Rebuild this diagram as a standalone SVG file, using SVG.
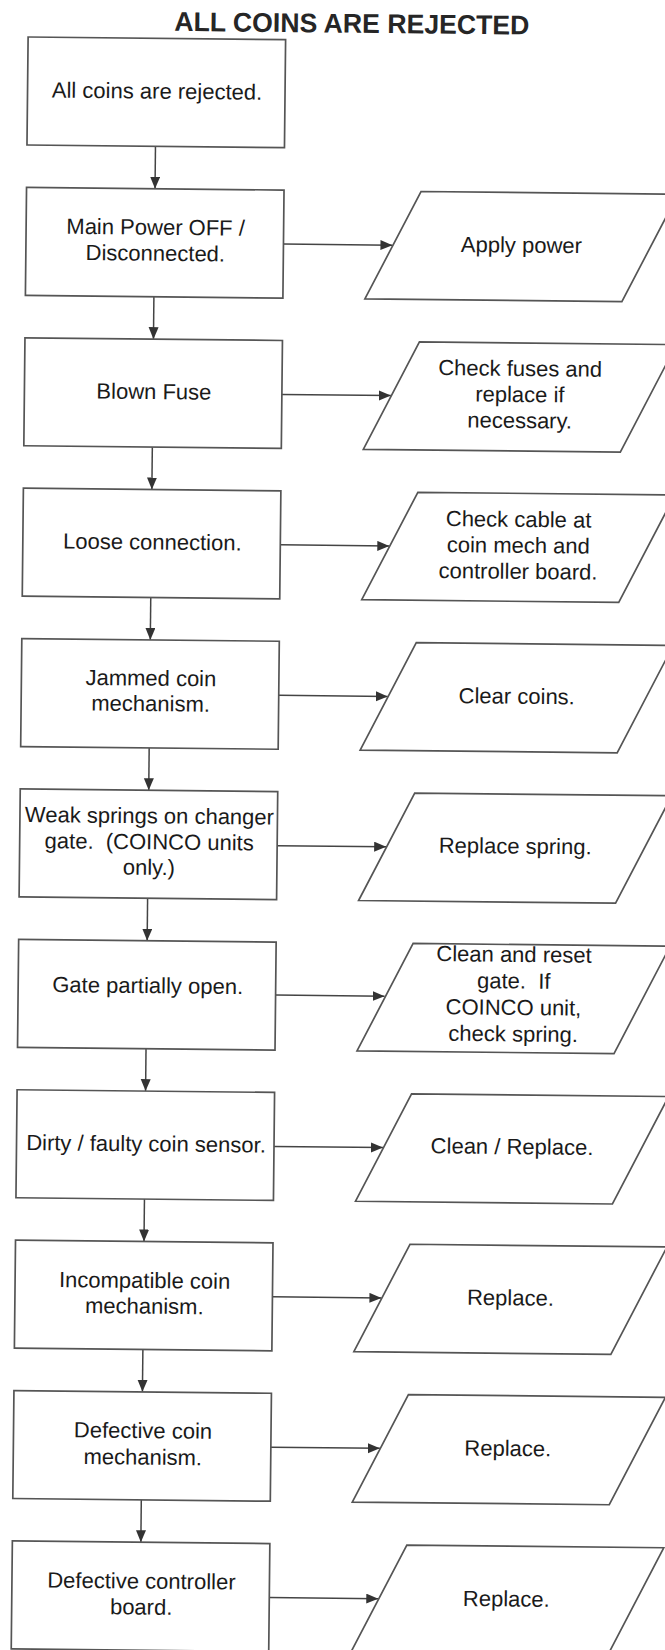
<svg xmlns="http://www.w3.org/2000/svg" width="665" height="1650" viewBox="0 0 665 1650">
<defs>
<marker id="ah" markerUnits="userSpaceOnUse" markerWidth="13" markerHeight="11" refX="12" refY="5" orient="auto">
<path d="M0,0 L12,5 L0,10 Z" fill="#333"/>
</marker>
<style>
.box{fill:#fff;stroke:#555;stroke-width:1.7}
.io{fill:#fff;stroke:#555;stroke-width:1.7}
.c{stroke:#444;stroke-width:1.5;fill:none;marker-end:url(#ah)}
text{font-family:"Liberation Sans",Arial,Helvetica,sans-serif;font-size:22px;fill:#1a1a1a;text-anchor:middle}
.title{font-weight:bold;font-size:27px;fill:#262626}
.b{}
.p{}
</style>
</defs>
<rect width="665" height="1650" fill="#fff"/>
<g transform="rotate(0.6)">
<text class="title" x="352" y="29" textLength="355" lengthAdjust="spacingAndGlyphs">ALL COINS ARE REJECTED</text>

<g id="connectors">
<line class="c" x1="157" y1="144.7" x2="157" y2="187.1"/>
<line class="c" x1="157" y1="295.1" x2="157" y2="337.5"/>
<line class="c" x1="157" y1="445.5" x2="157" y2="487.9"/>
<line class="c" x1="157" y1="595.9" x2="157" y2="638.3"/>
<line class="c" x1="157" y1="746.3" x2="157" y2="788.7"/>
<line class="c" x1="157" y1="896.7" x2="157" y2="939.1"/>
<line class="c" x1="157" y1="1047.1" x2="157" y2="1089.5"/>
<line class="c" x1="157" y1="1197.5" x2="157" y2="1239.9"/>
<line class="c" x1="157" y1="1347.9" x2="157" y2="1390.3"/>
<line class="c" x1="157" y1="1498.3" x2="157" y2="1540.7"/>
<line class="c" x1="286" y1="241.1" x2="395" y2="241.1"/>
<line class="c" x1="286" y1="391.5" x2="395" y2="391.5"/>
<line class="c" x1="286" y1="541.9" x2="395" y2="541.9"/>
<line class="c" x1="286" y1="692.3" x2="395" y2="692.3"/>
<line class="c" x1="286" y1="842.7" x2="395" y2="842.7"/>
<line class="c" x1="286" y1="992.1" x2="395" y2="992.1"/>
<line class="c" x1="286" y1="1143.5" x2="395" y2="1143.5"/>
<line class="c" x1="286" y1="1293.9" x2="395" y2="1293.9"/>
<line class="c" x1="286" y1="1444.3" x2="395" y2="1444.3"/>
<line class="c" x1="286" y1="1594.7" x2="395" y2="1594.7"/>
</g>

<g id="n1"><rect class="box" x="28.5" y="36.7" width="257.5" height="108"/>
<text x="158" y="97">All coins are rejected.</text></g>

<g id="n2"><rect class="box" x="28.5" y="187.1" width="257.5" height="108"/>
<text x="158" y="233.1">Main Power OFF /</text><text x="158" y="259.1">Disconnected.</text></g>
<g id="a2"><path class="io" d="M368,295.1 L423,187.1 L680,187.1 L625,295.1 Z"/>
<text x="524" y="247.1">Apply power</text></g>

<g id="n3"><rect class="box" x="28.5" y="337.5" width="257.5" height="108"/>
<text x="158" y="397.5">Blown Fuse</text></g>
<g id="a3"><path class="io" d="M368,445.5 L423,337.5 L680,337.5 L625,445.5 Z"/>
<text x="524" y="370.5">Check fuses and</text><text x="524" y="396.5">replace if</text><text x="524" y="422.5">necessary.</text></g>

<g id="n4"><rect class="box" x="28.5" y="487.9" width="257.5" height="108"/>
<text x="158" y="547.9">Loose connection.</text></g>
<g id="a4"><path class="io" d="M368,595.9 L423,487.9 L680,487.9 L625,595.9 Z"/>
<text x="524" y="521.4">Check cable at</text><text x="524" y="547.4">coin mech and</text><text x="524" y="573.4">controller board.</text></g>

<g id="n5"><rect class="box" x="28.5" y="638.3" width="257.5" height="108"/>
<text x="158" y="684">Jammed coin</text><text x="158" y="709.5">mechanism.</text></g>
<g id="a5"><path class="io" d="M368,746.3 L423,638.3 L680,638.3 L625,746.3 Z"/>
<text x="524" y="698.3">Clear coins.</text></g>

<g id="n6"><rect class="box" x="28.5" y="788.7" width="257.5" height="108"/>
<text x="158" y="821.7">Weak springs on changer</text><text x="158" y="847.7" xml:space="preserve">gate.  (COINCO units</text><text x="158" y="873.2">only.)</text></g>
<g id="a6"><path class="io" d="M368,896.7 L423,788.7 L680,788.7 L625,896.7 Z"/>
<text x="524" y="848.2">Replace spring.</text></g>

<g id="n7"><rect class="box" x="28.5" y="939.1" width="257.5" height="108"/>
<text x="158" y="991.5">Gate partially open.</text></g>
<g id="a7"><path class="io" d="M368,1047.1 L423,939.1 L680,939.1 L625,1047.1 Z"/>
<text x="524" y="956.5">Clean and reset</text><text x="524" y="983" xml:space="preserve">gate.  If</text><text x="524" y="1009.5">COINCO unit,</text><text x="524" y="1036">check spring.</text></g>

<g id="n8"><rect class="box" x="28.5" y="1089.5" width="257.5" height="108"/>
<text x="158" y="1149.7">Dirty / faulty coin sensor.</text></g>
<g id="a8"><path class="io" d="M368,1197.5 L423,1089.5 L680,1089.5 L625,1197.5 Z"/>
<text x="524" y="1148.7">Clean / Replace.</text></g>

<g id="n9"><rect class="box" x="28.5" y="1239.9" width="257.5" height="108"/>
<text x="158" y="1286.4">Incompatible coin</text><text x="158" y="1312">mechanism.</text></g>
<g id="a9"><path class="io" d="M368,1347.9 L423,1239.9 L680,1239.9 L625,1347.9 Z"/>
<text x="524" y="1299.9">Replace.</text></g>

<g id="n10"><rect class="box" x="28.5" y="1390.3" width="257.5" height="108"/>
<text x="158" y="1436.5">Defective coin</text><text x="158" y="1463">mechanism.</text></g>
<g id="a10"><path class="io" d="M368,1498.3 L423,1390.3 L680,1390.3 L625,1498.3 Z"/>
<text x="523" y="1450.5">Replace.</text></g>

<g id="n11"><rect class="box" x="28.5" y="1540.7" width="257.5" height="108"/>
<text x="158" y="1587">Defective controller</text><text x="158" y="1613">board.</text></g>
<g id="a11"><path class="io" d="M368,1648.7 L423,1540.7 L680,1540.7 L625,1648.7 Z"/>
<text x="523" y="1601">Replace.</text></g>
</g>
</svg>
